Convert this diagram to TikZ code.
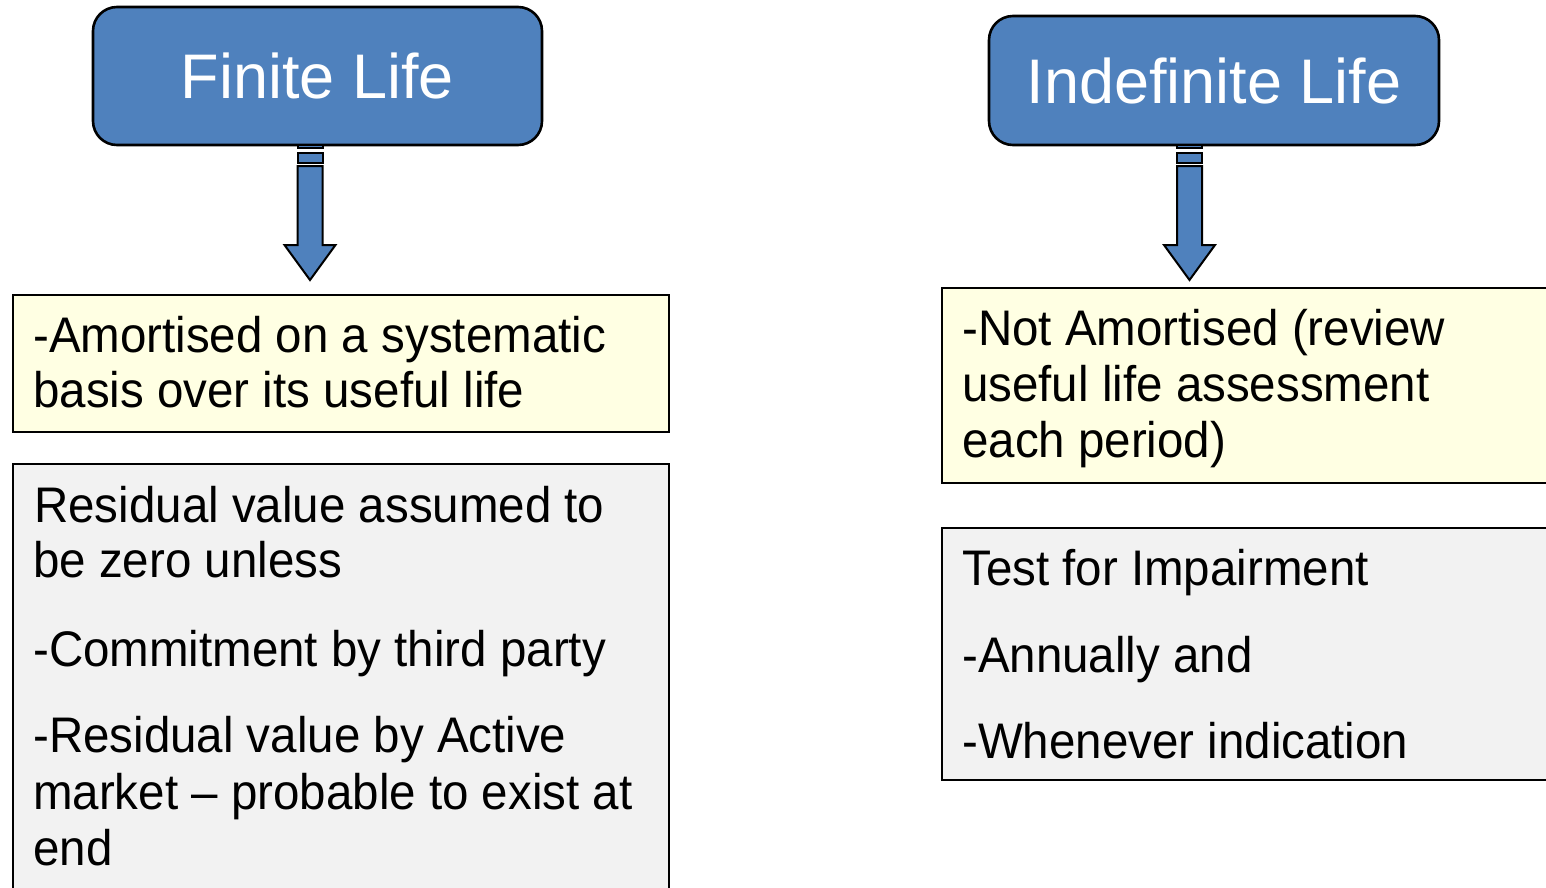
\documentclass[tikz,border=0pt]{standalone}
\usepackage{fontspec}
\setmainfont{Liberation Sans}
\newfontfamily\bodyfont[FakeStretch=0.95]{Liberation Sans}
\usetikzlibrary{calc}

\definecolor{lifeblue}{HTML}{4F81BD}
\definecolor{notefill}{HTML}{FFFFE3}
\definecolor{testfill}{HTML}{F2F2F2}

\begin{document}
\begin{tikzpicture}[x=1pt,y=-1pt,
  headbox/.style={draw=black, line width=2.6pt, fill=lifeblue, rounded corners=24pt,
    text=white, inner sep=0pt, font=\fontsize{63}{70}\selectfont},
  notebox/.style={draw=black, line width=2.6pt, fill=notefill, inner sep=0pt},
  testbox/.style={draw=black, line width=2.6pt, fill=testfill, inner sep=0pt},
  line/.style={anchor=base west, inner sep=0pt, text=black,
    font=\bodyfont\fontsize{50}{56}\selectfont},
  arrowpart/.style={draw=black, line width=2pt, fill=lifeblue, line join=miter}
]
\useasboundingbox (0,0) rectangle (1546,887);
\clip (0,0) rectangle (1546,887);

% --- heading boxes
\node[headbox, minimum width=449pt, minimum height=138pt] (fin) at (317.5,76) {Finite Life};
\node[headbox, minimum width=450pt, minimum height=129pt] (ind) at (1214,80.5) {Indefinite Life};

% --- striped block arrows below the headings
\coordinate (fa) at (310,145);
\coordinate (ia) at (1189.5,145);
\foreach \c in {fa,ia}{
  \begin{scope}[shift={(\c)}]
    \draw[arrowpart] (-12.5,0) rectangle (12.5,3);
    \draw[arrowpart] (-12.5,8) rectangle (12.5,18);
    \draw[arrowpart] (-12.5,21) -- (12.5,21) -- (12.5,100) -- (25.5,100)
      -- (0,135) -- (-25.5,100) -- (-12.5,100) -- cycle;
  \end{scope}
}

% --- finite life boxes
\node[notebox, minimum width=656pt, minimum height=137pt] (famort) at (341,363.5) {};
\node[testbox, minimum width=656pt, minimum height=460pt] (fresid) at (341,694) {};

\node[line] (f1) at (33,352) {-Amortised on a systematic};
\node[line] (f2) at (33,407) {basis over its useful life};

\node[line] (r1) at (34,522) {Residual value assumed to};
\node[line] (r2) at (33,577) {be zero unless};
\node[line] (r3) at (33,666) {-Commitment by third party};
\node[line] (r4) at (33,752) {-Residual value by Active};
\node[line] (r5) at (33,809) {market – probable to exist at};
\node[line] (r6) at (33,865) {end};

% --- indefinite life boxes
\node[notebox, minimum width=640pt, minimum height=195pt] (iamort) at (1262,385.5) {};
\node[testbox, minimum width=640pt, minimum height=252pt] (itest) at (1262,654) {};

\node[line] (n1) at (962,345) {-Not Amortised (review};
\node[line] (n2) at (962,401) {useful life assessment};
\node[line] (n3) at (962,457) {each period)};

\node[line] (t1) at (962,585) {Test for Impairment};
\node[line] (t2) at (962,672) {-Annually and};
\node[line] (t3) at (962,758) {-Whenever indication};
\end{tikzpicture}
\end{document}
